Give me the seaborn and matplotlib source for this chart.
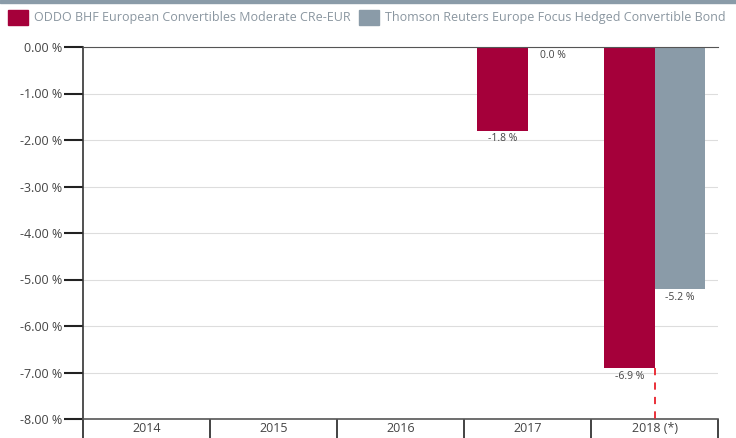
import matplotlib
matplotlib.use("Agg")
import matplotlib.pyplot as plt
import matplotlib.patches as mpatches
import seaborn as sns
import numpy as np
import pandas as pd

# data
years = ["2014", "2015", "2016", "2017", "2018 (*)"]
series = ["ODDO BHF European Convertibles Moderate CRe-EUR",
          "Thomson Reuters Europe Focus Hedged Convertible Bond"]
oddo = [np.nan, np.nan, np.nan, -1.8, -6.9]
thomson = [np.nan, np.nan, np.nan, 0.0, -5.2]
yticks = [0, -1, -2, -3, -4, -5, -6, -7, -8]

red = "#a5003a"
grey = "#8a9ba8"
text_col = "#444444"

df = pd.DataFrame({
    "year": years * 2,
    "series": [series[0]] * len(years) + [series[1]] * len(years),
    "value": oddo + thomson,
}).dropna()

sns.set_style("white")
plt.rcParams["font.family"] = ["Open Sans", "DejaVu Sans"]

fig = plt.figure(figsize=(7.36, 4.38), dpi=100)
ax = fig.add_axes([83 / 736, 1 - 419 / 438, 635 / 736, 372 / 438])

sns.barplot(data=df, x="year", y="value", hue="series", order=years,
            hue_order=series, palette=[red, grey], width=0.79,
            saturation=1, errorbar=None, legend=False, ax=ax,
            edgecolor="none")

# value labels under each bar
for cont in ax.containers:
    for bar in cont:
        h = bar.get_height()
        if np.isnan(h):
            continue
        ax.annotate(f"{h:.1f} %", (bar.get_x() + bar.get_width() / 2, h),
                    xytext=(0, -2), textcoords="offset points",
                    ha="center", va="top", fontsize=7.5, color=text_col)

ax.set_ylim(-8, 0)
ax.set_xlim(-0.5, len(years) - 0.5)

# red dashed marker under last ODDO bar, down to the axis
ax.vlines(len(years) - 1, oddo[-1], yticks[-1], colors="#e8202a",
          linestyles=(0, (4, 4)), linewidth=1.3, zorder=5)

ax.set_yticks(yticks)
ax.set_yticklabels([f"{v:.2f} %" for v in yticks])
ax.yaxis.grid(True, color="#dddddd", linewidth=0.8)
ax.set_axisbelow(True)
ax.set_xlabel("")
ax.set_ylabel("")

for side in ["left", "top", "bottom"]:
    ax.spines[side].set_visible(True)
    ax.spines[side].set_color("#333333")
ax.spines["left"].set_linewidth(1.2)
ax.spines["top"].set_color("#555555")
ax.spines["bottom"].set_color("#555555")
ax.spines["bottom"].set_linewidth(1.2)
ax.spines["right"].set_visible(False)

ax.tick_params(axis="y", left=True, direction="out", length=14, width=1.5,
               color="#222222", labelsize=9, labelcolor=text_col, pad=1)
ax.set_xticks(np.arange(-0.5, len(years)), minor=True)
ax.tick_params(axis="x", which="minor", bottom=True, direction="out",
               length=14, width=1.2, color="#222222")
ax.tick_params(axis="x", which="major", bottom=False, length=0,
               labelsize=9, labelcolor=text_col, pad=2)

# top band and legend
fig.patches.append(mpatches.Rectangle((0, 1 - 3 / 438), 1, 3 / 438,
                                      transform=fig.transFigure,
                                      color=grey, zorder=0))
handles = [mpatches.Patch(color=red, label=series[0]),
           mpatches.Patch(color=grey, label=series[1])]
leg = fig.legend(handles=handles, loc="upper left",
                 bbox_to_anchor=(0.0, 0.995), ncol=2, frameon=False,
                 prop={"family": ["Open Sans", "DejaVu Sans"], "size": 9.0},
                 handlelength=1.6, handleheight=1.5, handletextpad=0.5,
                 columnspacing=0.7, borderaxespad=0.2)
for t in leg.get_texts():
    t.set_color("#8a96a0")

fig.savefig("out.png", dpi=100)
